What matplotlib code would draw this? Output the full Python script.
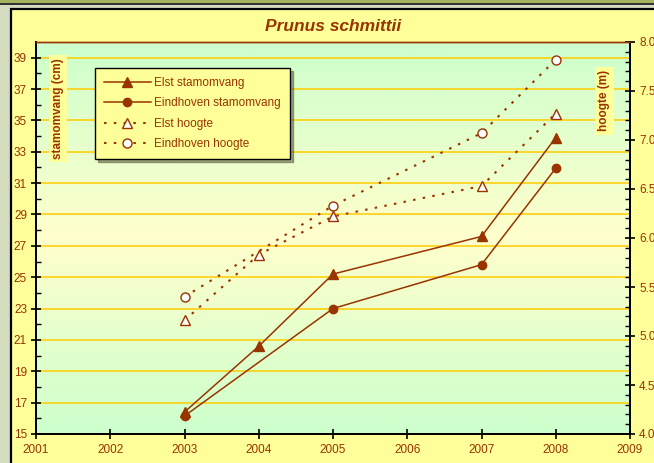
import numpy as np
import matplotlib.pyplot as plt
from matplotlib.patches import Rectangle
from matplotlib.colors import LinearSegmentedColormap

plt.rcParams["font.family"] = ["Liberation Sans", "DejaVu Sans"]

# data
years_stam_elst = [2003, 2004, 2005, 2007, 2008]
elst_stamomvang = [16.4, 20.6, 25.2, 27.6, 33.9]
years_stam_eind = [2003, 2005, 2007, 2008]
eindhoven_stamomvang = [16.15, 23.0, 25.8, 31.95]
years_h_elst = [2003, 2004, 2005, 2007, 2008]
elst_hoogte = [5.16, 5.83, 6.22, 6.53, 7.27]
years_h_eind = [2003, 2005, 2007, 2008]
eindhoven_hoogte = [5.40, 6.33, 7.07, 7.82]

brown = "#993300"
W, H = 654, 463

fig = plt.figure(figsize=(W / 100, H / 100), dpi=100)
fig.patch.set_facecolor("#d6dcc0")

# outer frame: olive band on top, yellow chart area with black border
fig.add_artist(Rectangle((0, 1 - 3 / H), 1, 3 / H, transform=fig.transFigure,
                         facecolor="#a4b25c", edgecolor="none", zorder=0))
fig.add_artist(Rectangle((0, 1 - 5 / H), 1, 2 / H, transform=fig.transFigure,
                         facecolor="#333333", edgecolor="none", zorder=0))
fig.add_artist(Rectangle((11 / W, -0.05), 1.1, 1 - 9 / H + 0.05, transform=fig.transFigure,
                         facecolor="#ffff99", edgecolor="black", linewidth=1.6, zorder=0))

ax = fig.add_axes([36 / W, (H - 434) / H, (630 - 36) / W, (434 - 42) / H])
ax.set_facecolor("none")

# green - pale yellow - green background gradient
cmap = LinearSegmentedColormap.from_list("bg", ["#ccffcc", "#ffffcc", "#ccffcc"])
grad = np.linspace(0, 1, 256).reshape(-1, 1)
ax.imshow(grad, cmap=cmap, aspect="auto", extent=(0, 1, 0, 1),
          transform=ax.transAxes, zorder=-5)

ax.set_xlim(2001, 2009)
ax.set_ylim(15, 40)
ax.set_yticks(np.arange(15, 40, 2))
ax.set_yticks(np.arange(16, 40, 2), minor=True)
ax.set_xticks(np.arange(2001, 2010))
ax.set_xticklabels([str(y) for y in range(2001, 2010)])
for v in np.arange(17, 40, 2):
    ax.axhline(v, color="#ffcc00", linewidth=1.1, zorder=0)

ax.plot(years_stam_elst, elst_stamomvang, color=brown, linewidth=1.1,
        marker="^", markersize=6.5, markerfacecolor=brown, markeredgecolor=brown,
        label="Elst stamomvang", zorder=3)
ax.plot(years_stam_eind, eindhoven_stamomvang, color=brown, linewidth=1.1,
        marker="o", markersize=6, markerfacecolor=brown, markeredgecolor=brown,
        label="Eindhoven stamomvang", zorder=3)

ax2 = ax.twinx()
ax2.set_ylim(4.0, 8.0)
ax2.set_yticks(np.arange(4.0, 8.01, 0.5))
ax2.set_yticks(np.arange(4.0, 8.01, 0.1), minor=True)
ax2.set_yticklabels(["%.1f" % v for v in np.arange(4.0, 8.01, 0.5)])
dot = (0, (1.2, 3.5))
ax2.plot(years_h_elst, elst_hoogte, color=brown, linewidth=1.5, linestyle=dot,
         marker="^", markersize=7, markerfacecolor="white", markeredgecolor=brown,
         markeredgewidth=1.0, label="Elst hoogte", zorder=3)
ax2.plot(years_h_eind, eindhoven_hoogte, color=brown, linewidth=1.5, linestyle=dot,
         marker="o", markersize=6.5, markerfacecolor="white", markeredgecolor=brown,
         markeredgewidth=1.0, label="Eindhoven hoogte", zorder=3)

for a in (ax, ax2):
    a.tick_params(which="major", direction="inout", length=7, width=1.2,
                  colors="black", labelcolor=brown, labelsize=8.5)
    a.tick_params(which="minor", direction="in", length=3.5, width=1.0, colors="black")
    for s in a.spines.values():
        s.set_linewidth(1.4)
        s.set_color("black")
    a.spines["top"].set_color(brown)
    a.spines["top"].set_linewidth(1.0)
ax.tick_params(axis="x", pad=4)
ax.tick_params(axis="y", pad=3)
ax2.tick_params(axis="y", pad=3)

ax.set_title("Prunus schmittii", color=brown, fontsize=12.5, fontweight="bold",
             fontstyle="italic", pad=8)

ax.text(0.037, 0.83, "stamomvang (cm)", transform=ax.transAxes, rotation=90,
        ha="center", va="center", fontsize=8.5, fontweight="bold", color=brown,
        bbox=dict(facecolor="#ffff99", edgecolor="none", pad=2.5))
ax.text(0.957, 0.85, "hoogte (m)", transform=ax.transAxes, rotation=90,
        ha="center", va="center", fontsize=8.5, fontweight="bold", color=brown,
        bbox=dict(facecolor="#ffff99", edgecolor="none", pad=2.5))

h1, l1 = ax.get_legend_handles_labels()
h2, l2 = ax2.get_legend_handles_labels()
leg = ax2.legend(h1 + h2, l1 + l2, loc="upper left", bbox_to_anchor=(0.099, 0.934),
                 borderaxespad=0, fontsize=8.5, labelcolor=brown, frameon=True,
                 fancybox=False, shadow=True, handlelength=4.0, handletextpad=0.3,
                 labelspacing=0.72, borderpad=0.75, numpoints=1)
leg.get_frame().set_facecolor("#ffff99")
leg.get_frame().set_edgecolor("black")
leg.get_frame().set_linewidth(1.0)
leg.get_frame().set_alpha(1)

fig.savefig("out.png", dpi=100)
